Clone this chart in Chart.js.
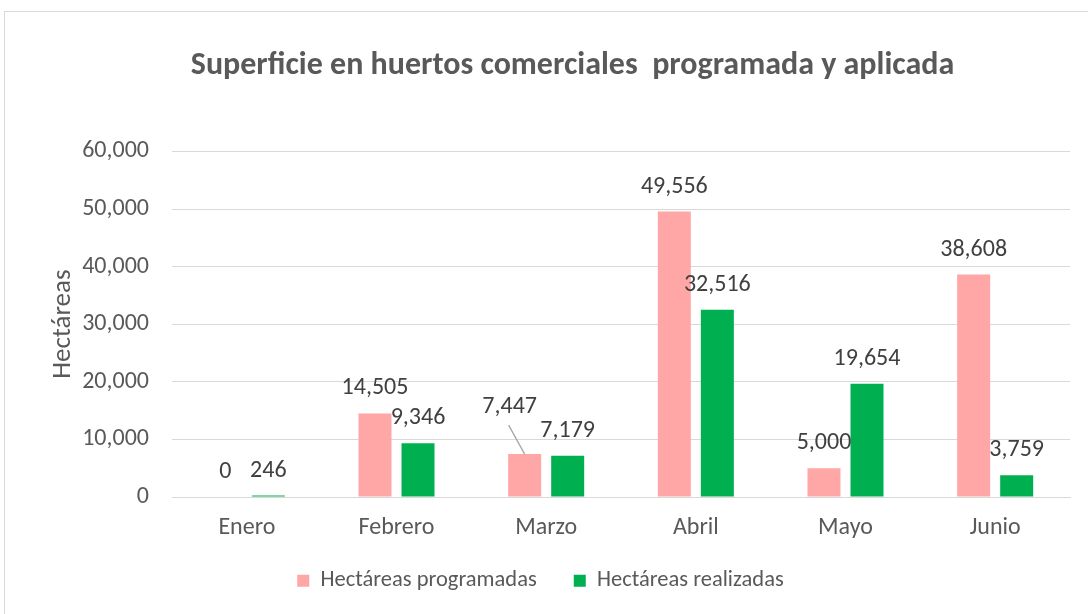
<!DOCTYPE html>
<html>
<head>
<meta charset="utf-8">
<script src="https://cdn.jsdelivr.net/npm/chart.js@4/dist/chart.umd.min.js"></script>
<style>
  html, body { margin: 0; padding: 0; background: #fff; overflow: hidden; }
  #frame { position: absolute; left: 4px; top: 11px; width: 1200px; height: 700px; border: 1px solid #d9d9d9; box-sizing: border-box; }
  #wrap { position: absolute; left: 0; top: 0; width: 1088px; height: 614px; }
</style>
</head>
<body>
<div id="frame"></div>
<div id="wrap"><canvas id="c" width="1088" height="614"></canvas></div>
<script>
const categories = ['Enero', 'Febrero', 'Marzo', 'Abril', 'Mayo', 'Junio'];
const programadas = [0, 14505, 7447, 49556, 5000, 38608];
const realizadas = [246, 9346, 7179, 32516, 19654, 3759];
const seriesNames = ['Hectáreas programadas', 'Hectáreas realizadas'];
const yTicks = [0, 10000, 20000, 30000, 40000, 50000, 60000];

const FONT = "Carlito, Calibri, Lato, 'Open Sans', sans-serif";

const dataLabels = {
  id: 'dataLabels',
  afterDatasetsDraw(chart, args, opts) {
    const ctx = chart.ctx;
    ctx.save();
    ctx.font = `${opts.size}px ${FONT}`;
    ctx.fillStyle = opts.color;
    ctx.textAlign = 'center';
    ctx.textBaseline = 'middle';
    chart.data.datasets.forEach((ds, di) => {
      const meta = chart.getDatasetMeta(di);
      meta.data.forEach((el, i) => {
        const key = di + ':' + i;
        const off = (opts.offsets && opts.offsets[key]) || { dx: 0, dy: 0 };
        const x = el.x + off.dx;
        const y = el.y - opts.gap + off.dy;
        if (off.leader) {
          ctx.strokeStyle = '#a6a6a6';
          ctx.lineWidth = 1.3;
          ctx.beginPath();
          ctx.moveTo(x - 1, y + 18);
          ctx.lineTo(el.x, el.y);
          ctx.stroke();
        }
        ctx.fillText(ds.data[i].toLocaleString('en-US'), x, y);
      });
    });
    ctx.restore();
  }
};

const shiftBoxes = {
  id: 'shiftBoxes',
  afterLayout(chart, args, opts) {
    const t = chart.titleBlock;
    if (t) { t.left += opts.titleDx; t.right += opts.titleDx; }
    const l = chart.legend;
    if (l) {
      l.left += opts.legendDx; l.right += opts.legendDx;
      l.top += opts.legendDy; l.bottom += opts.legendDy;
    }
  }
};

new Chart(document.getElementById('c'), {
  type: 'bar',
  data: {
    labels: categories,
    datasets: [
      { label: seriesNames[0], data: programadas, backgroundColor: '#ffa6a6', borderWidth: 0 },
      { label: seriesNames[1], data: realizadas, backgroundColor: '#00b050', borderWidth: 0 }
    ]
  },
  options: {
    responsive: false,
    animation: false,
    events: [],
    categoryPercentage: 0.575,
    barPercentage: 0.767,
    layout: { padding: { left: 47, right: 18, top: 11, bottom: 0 } },
    scales: {
      x: {
        grid: { display: false, drawTicks: false },
        border: { display: true, color: '#d9d9d9', width: 1 },
        ticks: { color: '#595959', font: { family: FONT, size: 24 }, padding: 17 },
        afterFit(s) { s.height = 47.5; }
      },
      y: {
        min: 0, max: 60000,
        afterBuildTicks(s) { s.ticks = yTicks.map(v => ({ value: v })); },
        grid: { color: '#d9d9d9', lineWidth: 1, drawTicks: false },
        border: { display: false },
        ticks: {
          color: '#595959', font: { family: FONT, size: 24 }, padding: 23,
          callback: v => v.toLocaleString('en-US')
        },
        title: { display: true, text: 'Hectáreas', color: '#595959', font: { family: FONT, size: 27 }, padding: { top: 0, bottom: 4 } },
        afterFit(s) { s.width = 125; }
      }
    },
    plugins: {
      title: {
        display: true,
        text: 'Superficie en huertos comerciales  programada y aplicada',
        color: '#595959',
        font: { family: FONT, size: 32, weight: 'bold' },
        padding: { top: 36, bottom: 66 }
      },
      shiftBoxes: { titleDx: 14, legendDx: -18, legendDy: -12 },
      legend: {
        position: 'bottom',
        labels: {
          color: '#595959',
          font: { family: FONT, size: 22.5 },
          boxWidth: 12, boxHeight: 12,
          padding: 37
        }
      },
      tooltip: { enabled: false },
      dataLabels: {
        size: 24, color: '#404040', gap: 25,
        offsets: { '0:2': { dx: -15, dy: -22, leader: true } }
      }
    }
  },
  plugins: [dataLabels, shiftBoxes]
});
</script>
</body>
</html>
